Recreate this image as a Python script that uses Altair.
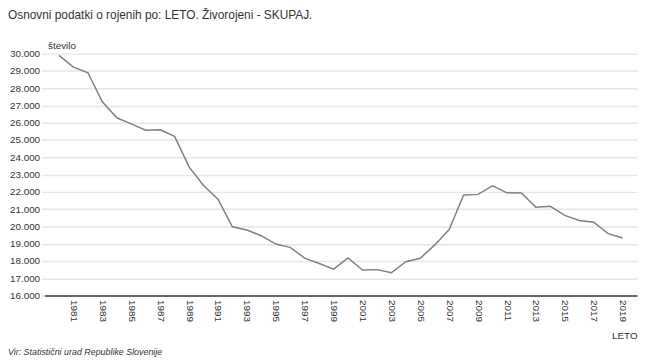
import altair as alt
import pandas as pd

years = list(range(1980, 2020))
births = [29902, 29220, 28894, 27214, 26287, 25933, 25570, 25592, 25209, 23447,
          22368, 21583, 19982, 19793, 19463, 18980, 18788, 18165, 17856, 17533,
          18180, 17477, 17501, 17321, 17961, 18157, 18932, 19823, 21817, 21856,
          22343, 21947, 21938, 21111, 21165, 20641, 20345, 20241, 19585, 19328]
x_ticks = list(range(1981, 2020, 2))
y_ticks = list(range(16000, 30001, 1000))

title_text = "Osnovni podatki o rojenih po: LETO. Živorojeni - SKUPAJ."
source_text = "Vir: Statistični urad Republike Slovenije"

FONT = "Arial, Liberation Sans, sans-serif"
df = pd.DataFrame({"LETO": years, "število": births})

line = alt.Chart(df).mark_line(color="#808080", strokeWidth=1.5).encode(
    x=alt.X("LETO:Q",
            scale=alt.Scale(domain=[1979, 2020], nice=False, zero=False),
            axis=alt.Axis(values=x_ticks, format="d", labelAngle=90, labelAlign="left",
                          labelBaseline="middle", labelFontSize=10, labelColor="#333",
                          labelPadding=4, ticks=False, grid=False, domainColor="#666",
                          domainWidth=2, title="LETO", titleFontSize=10,
                          titleFontWeight="normal", titleColor="#333",
                          titleX=600, titleY=40, titleAlign="right",
                          titleBaseline="middle", labelFont=FONT, titleFont=FONT)),
    y=alt.Y("število:Q",
            scale=alt.Scale(domain=[16000, 30000], nice=False, zero=False),
            axis=alt.Axis(values=y_ticks,
                          labelExpr="replace(format(datum.value, ',d'), ',', '.')",
                          labelFontSize=10, labelColor="#333", labelPadding=2,
                          tickSize=3, tickColor="#e6e6e6", tickWidth=1.5,
                          gridColor="#e6e6e6", gridWidth=1.5, domain=False,
                          title="število", titleAngle=0, titleX=3, titleY=-5,
                          titleAlign="left", titleBaseline="alphabetic",
                          titleFontSize=10, titleFontWeight="normal", titleColor="#333",
                          labelFont=FONT, titleFont=FONT)),
)

txt = pd.DataFrame({"t": [title_text]})
title = alt.Chart(txt).mark_text(align="left", baseline="top", fontSize=12,
                                 color="#333", font=FONT).encode(
    text="t:N", x=alt.value(-37), y=alt.value(-44))

src = pd.DataFrame({"t": [source_text]})
footer = alt.Chart(src).mark_text(align="left", baseline="middle", fontSize=9,
                                  fontStyle="italic", color="#333", font=FONT).encode(
    text="t:N", x=alt.value(-37), y=alt.value(302))

chart = alt.layer(line, title, footer).properties(
    width=600, height=245,
    autosize=alt.AutoSizeParams(type="none"),
    padding={"left": 37, "top": 44, "right": 5, "bottom": 60},
).configure_view(stroke=None)

chart.save("out.html", embed_options={"renderer": "svg", "actions": False})
